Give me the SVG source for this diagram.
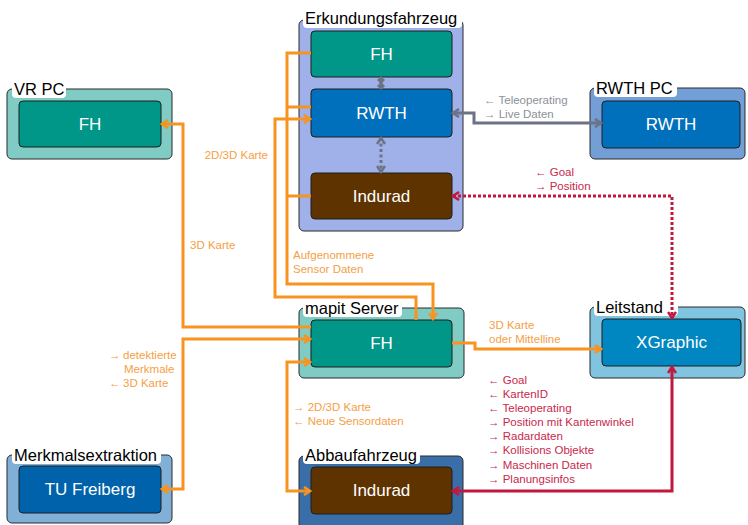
<svg xmlns="http://www.w3.org/2000/svg" width="748" height="525" viewBox="0 0 748 525">
<defs>
<style>
.outer{stroke:#2b2b2b;stroke-width:1}
.inner{stroke:#1e1e1e;stroke-width:1}
.lbl{font-family:"Liberation Sans",Arial,sans-serif;font-size:16.5px;fill:#000}
.lblbg{fill:#fff}
.ntxt{font-family:"Liberation Sans",Arial,sans-serif;font-size:17px;fill:#fff;text-anchor:middle}
.small{font-family:"Liberation Sans",Arial,sans-serif;font-size:11.5px}
.o{fill:#f5a045}
.g{fill:#8c9099}
.r{fill:#c8284c}
.lo{fill:none;stroke:#f7931e;stroke-width:3}
.lg{fill:none;stroke:#6b7385;stroke-width:3}
.lr{fill:none;stroke:#c4173f;stroke-width:3}
</style>
<marker id="ao" viewBox="0 0 10 10" refX="8" refY="5" markerWidth="10" markerHeight="10" markerUnits="userSpaceOnUse" orient="auto-start-reverse"><path d="M2,1 L8,5 L2,9" fill="none" stroke="#f7931e" stroke-width="2.5"/></marker>
<marker id="ag" viewBox="0 0 10 10" refX="8" refY="5" markerWidth="10" markerHeight="10" markerUnits="userSpaceOnUse" orient="auto-start-reverse"><path d="M2,1 L8,5 L2,9" fill="none" stroke="#6b7385" stroke-width="2.5"/></marker>
<marker id="agd" viewBox="0 0 10 10" refX="5" refY="5" markerWidth="10" markerHeight="10" markerUnits="userSpaceOnUse" orient="auto-start-reverse"><path d="M1,5 L5,1 L9,5 L5,9 Z" fill="#6b7385"/></marker>
<marker id="ar" viewBox="0 0 10 10" refX="8" refY="5" markerWidth="10" markerHeight="10" markerUnits="userSpaceOnUse" orient="auto-start-reverse"><path d="M2,1 L8,5 L2,9" fill="none" stroke="#c4173f" stroke-width="2.5"/></marker>
</defs>
<rect width="748" height="525" fill="#fff"/>

<g id="erkundungsfahrzeug">
<rect class="outer" x="299" y="20" width="164" height="211" rx="5" fill="#a0b0e8"/>
<rect class="lblbg" x="303" y="8" width="159" height="20" rx="4"/>
<text class="lbl" x="305" y="24">Erkundungsfahrzeug</text>
</g>
<g id="erk-fh">
<rect class="inner" x="311" y="31" width="141" height="46" rx="4" fill="#009688"/>
<text class="ntxt" x="381.5" y="60">FH</text>
</g>
<g id="erk-rwth">
<rect class="inner" x="311" y="89" width="141" height="48" rx="4" fill="#0070bc"/>
<text class="ntxt" x="381.5" y="119">RWTH</text>
</g>
<g id="erk-indurad">
<rect class="inner" x="311" y="173" width="141" height="46" rx="4" fill="#5e3300"/>
<text class="ntxt" x="381.5" y="202">Indurad</text>
</g>

<g id="rwthpc">
<rect class="outer" x="590" y="88" width="155" height="71" rx="5" fill="#739fd6"/>
<rect class="lblbg" x="594" y="77" width="83" height="20" rx="4"/>
<text class="lbl" x="596" y="94">RWTH PC</text>
<rect class="inner" x="602" y="101" width="138" height="47" rx="4" fill="#0070bc"/>
<text class="ntxt" x="671" y="130">RWTH</text>
</g>

<g id="vrpc">
<rect class="outer" x="7" y="89" width="165" height="70" rx="5" fill="#80cbc4"/>
<rect class="lblbg" x="12" y="78" width="54" height="20" rx="4"/>
<text class="lbl" x="14" y="95">VR PC</text>
<rect class="inner" x="19" y="101" width="142" height="46" rx="4" fill="#009688"/>
<text class="ntxt" x="90" y="130">FH</text>
</g>

<g id="mapit">
<rect class="outer" x="299" y="308" width="165" height="70" rx="5" fill="#80cbc4"/>
<rect class="lblbg" x="303" y="297" width="99" height="20" rx="4"/>
<text class="lbl" x="305" y="314">mapit Server</text>
<rect class="inner" x="311" y="320" width="141" height="47" rx="4" fill="#009688"/>
<text class="ntxt" x="381.5" y="349">FH</text>
</g>

<g id="leitstand">
<rect class="outer" x="590" y="307" width="155" height="71" rx="5" fill="#80c4e0"/>
<rect class="lblbg" x="594" y="296" width="84" height="20" rx="4"/>
<text class="lbl" x="596" y="313">Leitstand</text>
<rect class="inner" x="602" y="319" width="139" height="47" rx="4" fill="#0086c0"/>
<text class="ntxt" x="671.5" y="348">XGraphic</text>
</g>

<g id="merkmalsextraktion">
<rect class="outer" x="7" y="455" width="165" height="68" rx="5" fill="#80b0d8"/>
<rect class="lblbg" x="12" y="444" width="149" height="20" rx="4"/>
<text class="lbl" x="14" y="461">Merkmalsextraktion</text>
<rect class="inner" x="19" y="466" width="142" height="47" rx="4" fill="#0062aa"/>
<text class="ntxt" x="90" y="495">TU Freiberg</text>
</g>

<g id="abbaufahrzeug">
<rect class="outer" x="299" y="456" width="164" height="75" rx="5" fill="#3a6ea8"/>
<rect class="lblbg" x="303" y="444" width="117" height="20" rx="4"/>
<text class="lbl" x="305" y="461">Abbaufahrzeug</text>
<rect class="inner" x="311" y="467" width="141" height="47" rx="4" fill="#5e3300"/>
<text class="ntxt" x="381.5" y="496">Indurad</text>
</g>

<g id="connectors">
<path class="lo" d="M311,327 H183 V124 H162" marker-end="url(#ao)"/>
<path class="lo" d="M162,489 H183 V339 H310" marker-start="url(#ao)" marker-end="url(#ao)"/>
<path class="lo" d="M311,53 H287 V284 H433 V319" marker-end="url(#ao)"/>
<path class="lo" d="M311,107 H287"/>
<path class="lo" d="M311,196 H287"/>
<path class="lo" d="M416,320 V297 H275 V119 H310" marker-end="url(#ao)"/>
<path class="lo" d="M310,362 H287 V491 H310" marker-start="url(#ao)" marker-end="url(#ao)"/>
<path class="lo" d="M452,343 H475 V349 H601" marker-end="url(#ao)"/>
<path class="lg" d="M453,113 H474 V123 H601" marker-start="url(#ag)" marker-end="url(#ag)"/>
<path class="lg" d="M381,80 V86" marker-start="url(#agd)" marker-end="url(#agd)"/>
<path class="lg" d="M381,138 V172" stroke-dasharray="3,2.5" marker-start="url(#ag)" marker-end="url(#ag)"/>
<path class="lr" d="M453,196 H672 V318" stroke-dasharray="3,2" marker-start="url(#ar)" marker-end="url(#ar)"/>
<path class="lr" d="M672,367 V491 H453" marker-start="url(#ar)" marker-end="url(#ar)"/>
</g>

<g id="labels">
<text class="small g" x="484" y="104">← Teleoperating</text>
<text class="small g" x="484" y="118">→ Live Daten</text>
<text class="small r" x="535" y="176">← Goal</text>
<text class="small r" x="535" y="190">→ Position</text>
<text class="small o" x="268" y="159" text-anchor="end">2D/3D Karte</text>
<text class="small o" x="190" y="249">3D Karte</text>
<text class="small o" x="293" y="259">Aufgenommene</text>
<text class="small o" x="293" y="273">Sensor Daten</text>
<text class="small o" x="489" y="329">3D Karte</text>
<text class="small o" x="489" y="343">oder Mittelline</text>
<text class="small o" x="109" y="359">→</text>
<text class="small o" x="123" y="359">detektierte</text>
<text class="small o" x="124" y="373">Merkmale</text>
<text class="small o" x="109" y="387">←</text>
<text class="small o" x="123" y="387">3D Karte</text>
<text class="small o" x="293" y="411">→ 2D/3D Karte</text>
<text class="small o" x="293" y="425">← Neue Sensordaten</text>
<text class="small r" x="488" y="384">← Goal</text>
<text class="small r" x="488" y="398">← KartenID</text>
<text class="small r" x="488" y="412">← Teleoperating</text>
<text class="small r" x="488" y="426">→ Position mit Kantenwinkel</text>
<text class="small r" x="488" y="440">→ Radardaten</text>
<text class="small r" x="488" y="454">→ Kollisions Objekte</text>
<text class="small r" x="488" y="469">→ Maschinen Daten</text>
<text class="small r" x="488" y="483">→ Planungsinfos</text>
</g>
</svg>
